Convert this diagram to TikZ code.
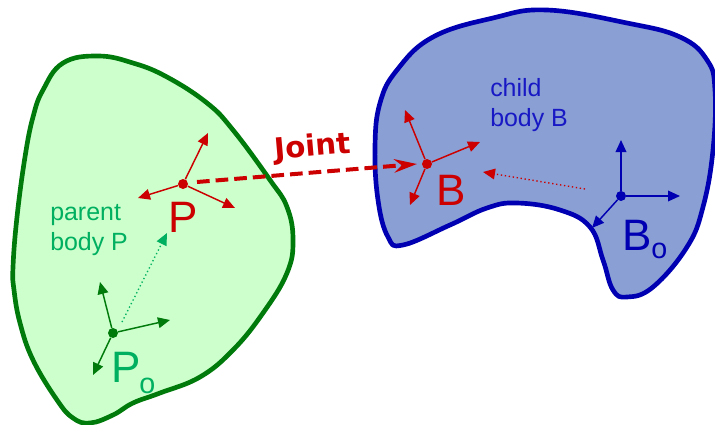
\documentclass[tikz,border=0pt]{standalone}
\usepackage{fontspec}
\setmainfont{Liberation Sans}
\newfontfamily\jointfont{DejaVu Sans}
\usepackage{xcolor}
\usetikzlibrary{arrows.meta}
\definecolor{parentfill}{RGB}{204,255,204}
\definecolor{parentline}{RGB}{0,122,10}
\definecolor{parenttext}{RGB}{0,176,96}
\definecolor{childfill}{RGB}{138,160,212}
\definecolor{childline}{RGB}{0,0,178}
\definecolor{childtext}{RGB}{24,24,196}
\definecolor{jointred}{RGB}{204,0,0}
\tikzset{
  body/.style={line width=3.5pt,line join=round},
  framedot/.style={circle,fill,inner sep=0pt,minimum size=7.5pt},
  axis/.style={line width=1.1pt,-{Triangle[length=9pt,width=8pt]}},
  link/.style={line width=1pt,dotted,-{Triangle[length=9pt,width=8pt]}},
  bigname/.style={font=\fontsize{33}{33}\selectfont,inner sep=0pt},
  subname/.style={font=\fontsize{21.5}{22}\selectfont,inner sep=0pt},
  smalltext/.style={font=\fontsize{18.7}{22.5}\selectfont,align=left,inner sep=0pt},
}
\begin{document}
\begin{tikzpicture}[x=0.75pt,y=-0.75pt]
  \useasboundingbox (0,0) rectangle (715,425);
  % parent body outline, pixel coordinates of the reference
  \draw[body,draw=parentline,fill=parentfill] plot[smooth cycle,tension=0.7] coordinates {
    (98,56)(133,63)(167,77)(207,103)(233,130)(270,180)(287,207)(293,240)(287,273)(263,313)(233,350)(200,377)(160,393)(133,403)(113,415)(90,423)(73,418)(57,400)(33,360)(20,323)(14,290)(13,267)(17,217)(25,157)(33,117)(43,90)(63,63)};
  % child body outline
  \draw[body,draw=childline,fill=childfill] plot[smooth cycle,tension=0.7] coordinates {
    (547,10)(627,23)(680,37)(707,60)(715,90)(713,150)(703,207)(687,247)(653,287)(627,297)(613,290)(603,260)(590,227)(560,210)(517,203)(487,208)(450,225)(403,245)(388,237)(378,200)(375,147)(380,103)(397,70)(433,37)(493,18)};

  % frame origins
  \node[framedot,color=parentline] (po) at (113,333) {};
  \node[framedot,color=jointred] (p) at (183,184) {};
  \node[framedot,color=jointred] (b) at (427,164) {};
  \node[framedot,color=childline] (bo) at (621,196) {};

  % axis ends
  \foreach \n/\x/\y in {po1/100/282,po2/170/320,po3/93/375,p1/208/133,p2/138/198,p3/235/208,b1/405/110,b2/480/142,b3/410/205,bo1/621/140,bo2/680/196,bo3/592/228}
    \coordinate (\n) at (\x,\y);
  \foreach \e in {po1,po2,po3} \draw[axis,parentline] (po) -- (\e);
  \foreach \e in {p1,p2,p3} \draw[axis,jointred] (p) -- (\e);
  \foreach \e in {b1,b2,b3} \draw[axis,jointred] (b) -- (\e);
  \foreach \e in {bo1,bo2,bo3} \draw[axis,childline] (bo) -- (\e);

  % dotted offsets between the frames of one body
  \coordinate (postart) at (122,322);
  \coordinate (poend) at (167,233);
  \coordinate (bostart) at (585,189);
  \coordinate (boend) at (483,172);
  \draw[link,parenttext] (postart) -- (poend);
  \draw[link,jointred] (bostart) -- (boend);

  % the joint
  \coordinate (jointstart) at (197,182);
  \coordinate (jointend) at (417,164);
  \draw[jointred,line width=3pt,dash pattern=on 9.5pt off 4.5pt,-{Stealth[length=17pt,width=10pt]}] (jointstart) -- (jointend);
  \node[jointred,rotate=5,inner sep=0pt,font=\jointfont\bfseries\fontsize{22}{22}\selectfont] (joint) at (313,148) {Joint};

  % labels
  \node[bigname,parenttext,anchor=base west] (polabel) at (111,382) {P};
  \node[subname,parenttext,anchor=base west] (posub) at (139,393) {o};
  \node[bigname,jointred,anchor=base west] (plabel) at (168,232) {P};
  \node[bigname,jointred,anchor=base west] (blabel) at (436,205) {B};
  \node[bigname,childline,anchor=base west] (bolabel) at (622,250) {B};
  \node[subname,childline,anchor=base west] (bosub) at (651,258) {o};
  \node[smalltext,parenttext,anchor=north west] (parentlabel) at (50,204) {parent\\body P};
  \node[smalltext,childtext,anchor=north west] (childlabel) at (490,78) {child\\body B};
\end{tikzpicture}
\end{document}
